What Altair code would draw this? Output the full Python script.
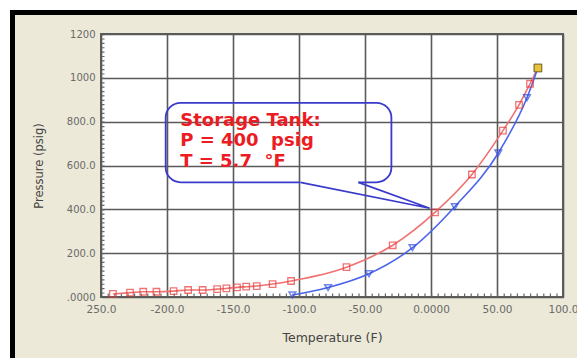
import altair as alt
import pandas as pd

# ---- data ----
red_temp = [-241, -228, -218, -208, -195, -184, -173, -162, -155, -147, -140, -132,
            -120, -106, -64, -29, 3, 31, 54.5, 66.7, 75]
red_pres = [14, 20, 24, 24, 27, 32, 32, 36, 39, 44, 47, 50,
            59, 73, 136, 236, 386, 559, 759, 877, 973]
blue_temp = [-105, -78, -47, -14, 18, 51, 72.7]
blue_pres = [9, 43, 106, 225, 412, 657, 909]
crit_temp = [81]
crit_pres = [1045]

x_ticks = [-250, -200, -150, -100, -50, 0, 50, 100]
x_tick_labels = ["250.0", "-200.0", "-150.0", "-100.0", "-50.00", "0.0000", "50.00", "100.0"]
y_ticks = [0, 200, 400, 600, 800, 1000, 1200]
y_tick_labels = [".0000", "200.0", "400.0", "600.0", "800.0", "1000", "1200"]

callout_lines = ["Storage Tank:", "P = 400\u00a0 psig", "T = 5.7\u00a0 \u00b0F"]
callout_box_temp = [-201, -30]
callout_box_pres = [523, 886]
pointer_temp = [-99, -1, -55]
pointer_pres = [523, 405, 523]
callout_text_temp = [-190]
callout_text_pres = [782]

W, H = 462, 263
PADL, PADT, PADR, PADB = 101, 34, 14, 61


def label_expr(vals, labs):
    expr = "''"
    for v, l in zip(reversed(vals), reversed(labs)):
        expr = f"datum.value == {v} ? '{l}' : ({expr})"
    return expr


xscale = alt.Scale(domain=[-250, 100], nice=False, zero=False)
yscale = alt.Scale(domain=[0, 1200], nice=False)

xenc = alt.X("t:Q", scale=xscale, axis=alt.Axis(
    values=x_ticks, labelExpr=label_expr(x_ticks, x_tick_labels),
    title="Temperature (F)", grid=True, gridColor="#5a5a5a", gridWidth=1.6,
    domain=False, ticks=False, labelPadding=7, labelFontSize=10.5,
    labelColor="#6a6a6a", labelFont="DejaVu Sans", labelFlush=False,
    titleFont="DejaVu Sans", titleFontSize=12.5, titleFontWeight="normal",
    titleColor="#444444", titlePadding=17))
yenc = alt.Y("p:Q", scale=yscale, axis=alt.Axis(
    values=y_ticks, labelExpr=label_expr(y_ticks, y_tick_labels),
    title="Pressure (psig)", grid=True, gridColor="#5a5a5a", gridWidth=1.6,
    domain=False, ticks=False, labelPadding=6, labelFontSize=10,
    labelColor="#6a6a6a", labelFont="DejaVu Sans", labelFlush=False,
    titleFont="DejaVu Sans", titleFontSize=11.5, titleFontWeight="normal",
    titleColor="#444444", titlePadding=22))

red_df = pd.DataFrame({"t": red_temp + crit_temp, "p": red_pres + crit_pres})
red_pts = pd.DataFrame({"t": red_temp, "p": red_pres})
blue_df = pd.DataFrame({"t": blue_temp + crit_temp, "p": blue_pres + crit_pres})
blue_pts = pd.DataFrame({"t": blue_temp, "p": blue_pres})
crit_df = pd.DataFrame({"t": crit_temp, "p": crit_pres})

one = pd.DataFrame({"a": [0]})


def band(x, x2, y, y2, color):
    return alt.Chart(one).mark_rect(color=color).encode(
        x=alt.value(x), x2=alt.value(x2), y=alt.value(y), y2=alt.value(y2))


bands = [
    band(-PADL, W + PADR, -PADT, -24, "white"),
    band(-PADL, -91, -PADT, H + PADB, "white"),
    band(-91, W + PADR, -24, -19, "black"),
    band(-91, -86, -24, H + PADB, "black"),
]

base_axes = alt.Chart(red_df).mark_point(opacity=0).encode(x=xenc, y=yenc)

minor_y = alt.Chart(one).mark_rule(color="#666666", strokeWidth=4, strokeDash=[1.2, 3.18]).encode(
    x=alt.value(1.5), y=alt.value(0), y2=alt.value(H))
minor_x = alt.Chart(one).mark_rule(color="#666666", strokeWidth=4, strokeDash=[1.2, 5.4]).encode(
    y=alt.value(H - 1.5), x=alt.value(0), x2=alt.value(W))
border = alt.Chart(one).mark_rect(fill=None, stroke="#5a5a5a", strokeWidth=2).encode(
    x=alt.value(0), x2=alt.value(W), y=alt.value(0), y2=alt.value(H))

red_line = alt.Chart(red_df).mark_line(color="#f07272", strokeWidth=1.6, interpolate="monotone").encode(
    x=alt.X("t:Q", scale=xscale), y=alt.Y("p:Q", scale=yscale))
red_marks = alt.Chart(red_pts).mark_point(shape="square", filled=False, color="#e83a3a",
                                          size=42, strokeWidth=1.3).encode(
    x=alt.X("t:Q", scale=xscale), y=alt.Y("p:Q", scale=yscale))
blue_line = alt.Chart(blue_df).mark_line(color="#4a64ec", strokeWidth=1.6, interpolate="monotone").encode(
    x=alt.X("t:Q", scale=xscale), y=alt.Y("p:Q", scale=yscale))
blue_marks = alt.Chart(blue_pts).mark_point(shape="triangle-down", filled=False, color="#3650e0",
                                            size=45, strokeWidth=1.5).encode(
    x=alt.X("t:Q", scale=xscale), y=alt.Y("p:Q", scale=yscale))
crit_mark = alt.Chart(crit_df).mark_point(shape="square", filled=True, fill="#e8c23a",
                                          stroke="#6b5a20", strokeWidth=1, size=60, opacity=1).encode(
    x=alt.X("t:Q", scale=xscale), y=alt.Y("p:Q", scale=yscale))

box_df = pd.DataFrame({"t": [callout_box_temp[0]], "t2": [callout_box_temp[1]],
                       "p": [callout_box_pres[0]], "p2": [callout_box_pres[1]]})
box = alt.Chart(box_df).mark_rect(fill=None, stroke="#3a3acb", strokeWidth=1.8, cornerRadius=15).encode(
    x=alt.X("t:Q", scale=xscale), x2="t2:Q", y=alt.Y("p:Q", scale=yscale), y2="p2:Q")
gap_df = pd.DataFrame({"t": [pointer_temp[0]], "t2": [pointer_temp[2]], "p": [pointer_pres[0]]})
gap = alt.Chart(gap_df).mark_rule(color="white", strokeWidth=3).encode(
    x=alt.X("t:Q", scale=xscale), x2="t2:Q", y=alt.Y("p:Q", scale=yscale))
ptr_df = pd.DataFrame({"t": pointer_temp, "p": pointer_pres, "o": [0, 1, 2]})
pointer = alt.Chart(ptr_df).mark_line(color="#3a3acb", strokeWidth=1.6).encode(
    x=alt.X("t:Q", scale=xscale), y=alt.Y("p:Q", scale=yscale), order="o:Q")
txt_df = pd.DataFrame({"t": callout_text_temp, "p": callout_text_pres,
                       "label": ["\n".join(callout_lines)]})
text = alt.Chart(txt_df).mark_text(align="left", baseline="alphabetic", lineBreak="\n",
                                   lineHeight=20.5, font="DejaVu Sans", fontWeight="bold",
                                   fontSize=18, color="#ec1c24").encode(
    x=alt.X("t:Q", scale=xscale), y=alt.Y("p:Q", scale=yscale), text="label:N")

chart = alt.layer(
    *bands, base_axes, minor_y, minor_x, border,
    red_line, blue_line, red_marks, blue_marks, crit_mark,
    box, gap, pointer, text
).properties(
    width=W, height=H,
    autosize=alt.AutoSizeParams(type="none"),
    padding={"left": PADL, "top": PADT, "right": PADR, "bottom": PADB},
    background="#ece9d8",
).configure_view(fill="white", stroke=None)

chart.save("out.html", embed_options={"renderer": "svg", "actions": False})
